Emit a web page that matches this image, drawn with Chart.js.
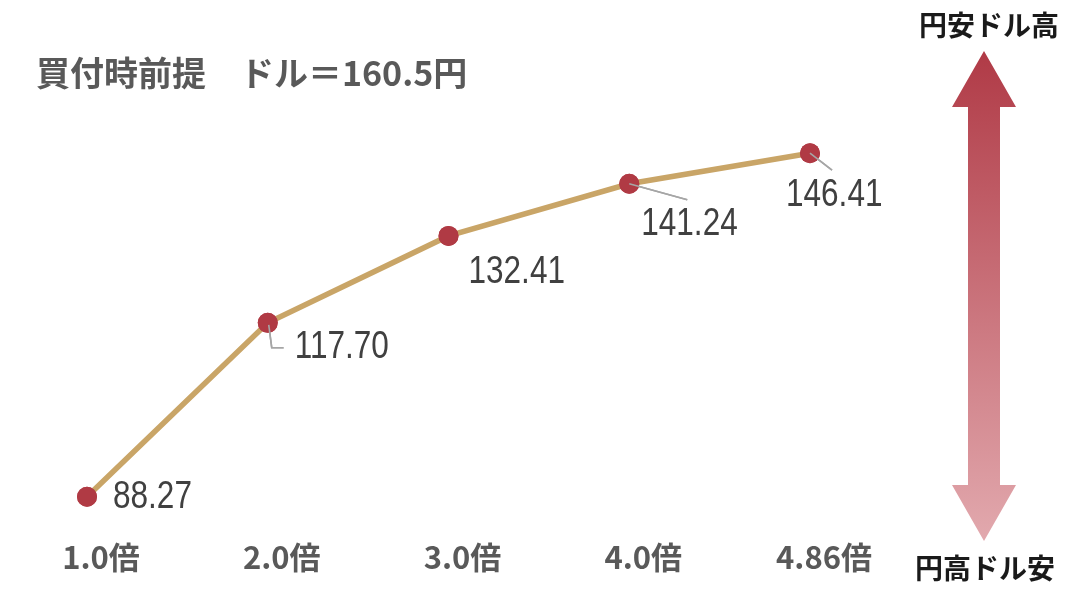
<!DOCTYPE html>
<html lang="ja">
<head>
<meta charset="utf-8">
<script src="https://cdn.jsdelivr.net/npm/chart.js@4.4.1/dist/chart.umd.min.js"></script>
<style>
  html, body { margin: 0; padding: 0; background: #fff; }
  #wrap { width: 1080px; height: 600px; position: relative; }
</style>
</head>
<body>
<div id="wrap"><canvas id="myChart"></canvas></div>
<script>
// data
const categories = ['1.0倍', '2.0倍', '3.0倍', '4.0倍', '4.86倍'];
const rates = [88.27, 117.70, 132.41, 141.24, 146.41];
const titleText = '買付時前提　ドル＝160.5円';
const arrowTop = '円安ドル高';
const arrowBottom = '円高ドル安';

// label placement relative to each point (dx, dy) and leader lines
const labelOffsets = [[26, 0], [27, 24], [20, 36], [12, 40], [-24, 41]];
const leaders = [
  null,
  [[1, 2], [4, 25], [16, 25]],
  null,
  [[0, 0], [58, 16]],
  [[0, 0], [22, 17]]
];

const GRAY = '#595959';

// point labels + leader lines
const pointLabels = {
  id: 'pointLabels',
  afterDatasetsDraw(chart) {
    const ctx = chart.ctx;
    const meta = chart.getDatasetMeta(0);
    ctx.save();
    meta.data.forEach((pt, i) => {
      const lead = leaders[i];
      if (lead) {
        ctx.beginPath();
        ctx.strokeStyle = '#a6a6a6';
        ctx.lineWidth = 1.6;
        lead.forEach((p, j) => {
          if (j === 0) ctx.moveTo(pt.x + p[0], pt.y + p[1]);
          else ctx.lineTo(pt.x + p[0], pt.y + p[1]);
        });
        ctx.stroke();
      }
    });
    // redraw points on top of the leaders
    meta.data.forEach(pt => {
      ctx.beginPath();
      ctx.fillStyle = '#b03a44';
      ctx.arc(pt.x, pt.y, 10, 0, Math.PI * 2);
      ctx.fill();
    });
    meta.data.forEach((pt, i) => {
      const lead = leaders[i];
      if (lead) {
        ctx.beginPath();
        ctx.strokeStyle = '#a6a6a6';
        ctx.lineWidth = 1.6;
        ctx.moveTo(pt.x + lead[0][0], pt.y + lead[0][1]);
        ctx.lineTo(pt.x + lead[1][0], pt.y + lead[1][1]);
        ctx.stroke();
      }
      const txt = rates[i].toFixed(2);
      const x = pt.x + labelOffsets[i][0];
      const y = pt.y + labelOffsets[i][1];
      ctx.save();
      ctx.translate(x, y);
      ctx.scale(0.83, 1);
      ctx.font = '38px "Liberation Sans", Arial, sans-serif';
      ctx.fillStyle = '#404040';
      ctx.textAlign = 'left';
      ctx.textBaseline = 'middle';
      ctx.fillText(txt, 0, 1);
      ctx.restore();
    });
    ctx.restore();
  }
};

// title text and the yen/dollar arrow on the right
const decorations = {
  id: 'decorations',
  afterDraw(chart) {
    const ctx = chart.ctx;
    ctx.save();
    ctx.font = 'bold 34px "Noto Sans CJK JP", sans-serif';
    ctx.fillStyle = GRAY;
    ctx.textBaseline = 'middle';
    ctx.textAlign = 'left';
    ctx.fillText(titleText, 36, 73);

    const cx = 984, top = 51, headTop = 107, headBot = 485, bot = 541;
    const grad = ctx.createLinearGradient(0, top, 0, bot);
    grad.addColorStop(0, '#b03a46');
    grad.addColorStop(1, '#e2a9ae');
    ctx.fillStyle = grad;
    ctx.beginPath();
    ctx.moveTo(cx, top);
    ctx.lineTo(cx + 32, headTop);
    ctx.lineTo(cx + 16, headTop);
    ctx.lineTo(cx + 16, headBot);
    ctx.lineTo(cx + 32, headBot);
    ctx.lineTo(cx, bot);
    ctx.lineTo(cx - 32, headBot);
    ctx.lineTo(cx - 16, headBot);
    ctx.lineTo(cx - 16, headTop);
    ctx.lineTo(cx - 32, headTop);
    ctx.closePath();
    ctx.fill();

    ctx.font = 'bold 28px "Noto Sans CJK JP", sans-serif';
    ctx.fillStyle = '#1a1a1a';
    ctx.textAlign = 'center';
    ctx.fillText(arrowTop, 989, 25);
    ctx.fillText(arrowBottom, 985, 568);
    ctx.restore();
  }
};

const ctx = document.getElementById('myChart');

new Chart(ctx, {
  type: 'line',
  data: {
    labels: categories,
    datasets: [{
      data: rates,
      borderColor: '#c9a567',
      borderWidth: 5.5,
      tension: 0,
      pointRadius: 10,
      pointBackgroundColor: '#b03a44',
      pointBorderWidth: 0,
      clip: false
    }]
  },
  options: {
    responsive: true,
    maintainAspectRatio: false,
    animation: false,
    layout: {
      padding: { top: 132, left: 87, right: 270, bottom: 27 }
    },
    plugins: {
      legend: { display: false },
      tooltip: { enabled: false }
    },
    scales: {
      x: {
        offset: false,
        grid: { display: false },
        border: { display: false },
        ticks: {
          color: GRAY,
          font: { family: '"Noto Sans CJK JP", sans-serif', size: 31, weight: 'bold', lineHeight: 1.2 },
          padding: -3,
          labelOffset: 14,
          maxRotation: 0,
          autoSkip: false
        }
      },
      y: {
        display: false,
        min: 82,
        max: 150
      }
    }
  },
  plugins: [pointLabels, decorations]
});
</script>
</body>
</html>
